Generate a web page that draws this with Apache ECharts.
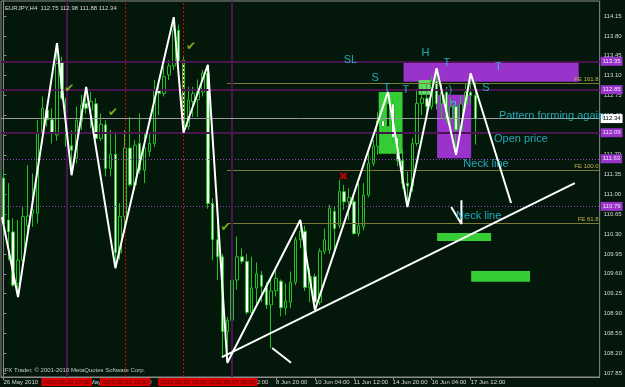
<!DOCTYPE html>
<html>
<head>
<meta charset="utf-8">
<script src="https://cdn.jsdelivr.net/npm/echarts@6/dist/echarts.min.js"></script>
<style>
  html, body { margin: 0; padding: 0; background: #03180b; }
  #main { width: 625px; height: 387px; }
</style>
</head>
<body>
<div id="main"></div>
<script>
(function () {
  // EURJPY H4, 26 May 2010 12:00 .. 17 Jun 2010 16:00 (98 bars), then empty shift area
  const slotCount = 123;

  const opens = [111.29, 110.55, 110.34, 109.43, 109.84, 110.45, 110.67, 110.67, 112.08, 112.49,
    112.32, 112.05, 113.34, 112.70, 111.86, 111.64, 112.29, 112.61, 112.49, 112.60,
    111.99, 112.23, 111.46, 111.71, 109.97, 110.61, 111.82, 111.17, 111.90, 111.43,
    111.76, 111.90, 112.84, 112.78, 113.11, 113.27, 113.90, 113.37, 112.20, 112.64,
    112.67, 112.81, 113.14, 110.84, 110.20, 109.90, 108.58, 108.78, 109.49, 109.90,
    109.82, 108.92, 109.35, 109.58, 109.38, 109.05, 109.30, 109.47, 109.00, 109.10,
    109.45, 110.20, 110.35, 109.36, 109.55, 109.10, 110.00, 110.02, 110.70, 110.45,
    111.05, 110.87, 110.87, 110.31, 110.43, 110.99, 111.55, 111.85, 112.30, 112.20,
    112.60, 112.00, 111.60, 111.20, 111.15, 111.90, 112.61, 112.70, 112.55, 113.00,
    112.60, 112.80, 112.35, 112.55, 112.14, 112.60, 112.80, 112.75];
  const closes = [110.49, 110.34, 109.40, 109.84, 110.61, 110.62, 110.73, 112.08, 112.52, 112.32,
    112.08, 113.31, 112.70, 111.85, 111.78, 112.31, 112.58, 112.52, 112.64, 111.99,
    112.24, 111.46, 111.71, 109.97, 110.61, 111.82, 111.17, 111.87, 111.43, 111.82,
    111.90, 112.84, 112.78, 113.08, 113.27, 113.90, 113.35, 112.20, 112.67, 112.78,
    112.81, 113.14, 110.84, 110.20, 109.90, 108.58, 108.78, 109.49, 109.90, 109.82,
    108.92, 109.35, 109.60, 109.38, 109.05, 109.30, 109.52, 109.00, 109.12, 109.45,
    110.20, 110.35, 109.36, 109.55, 109.10, 110.00, 110.20, 110.76, 110.40, 111.05,
    110.87, 110.95, 110.31, 110.45, 110.99, 111.55, 111.85, 112.30, 112.20, 112.60,
    112.00, 111.60, 111.20, 111.15, 111.90, 112.61, 112.70, 112.55, 113.00, 112.60,
    112.80, 112.35, 112.55, 112.14, 112.60, 112.80, 112.75, 112.34];
  const lows = [110.37, 109.84, 109.37, 109.19, 109.81, 110.37, 110.43, 110.49, 111.90, 112.20,
    111.90, 111.95, 112.67, 111.79, 111.34, 111.55, 112.14, 112.43, 112.17, 111.96,
    111.94, 111.32, 111.32, 109.70, 109.85, 110.37, 111.14, 111.08, 111.37, 111.20,
    111.67, 111.84, 112.40, 112.73, 113.02, 113.20, 113.30, 112.08, 112.14, 112.37,
    112.37, 112.73, 110.75, 109.84, 109.49, 108.14, 108.02, 108.25, 109.32, 109.78,
    108.88, 108.85, 109.05, 109.10, 108.98, 108.29, 109.20, 108.85, 108.87, 108.99,
    109.40, 110.05, 109.30, 109.10, 108.96, 109.05, 109.95, 109.95, 110.02, 110.40,
    110.73, 110.55, 110.29, 110.26, 110.37, 110.95, 111.50, 111.70, 112.00, 112.10,
    111.90, 111.50, 111.10, 110.78, 111.05, 111.85, 112.40, 112.35, 112.50, 112.50,
    112.35, 112.25, 112.10, 111.70, 112.05, 112.50, 112.60, 111.88];
  const highs = [111.43, 111.20, 110.58, 110.55, 110.79, 111.52, 111.37, 112.31, 112.73, 112.55,
    112.52, 113.67, 113.43, 112.76, 112.13, 112.55, 112.76, 112.90, 112.81, 112.70,
    112.43, 112.31, 112.14, 112.11, 110.85, 112.14, 112.37, 111.96, 112.43, 112.08,
    112.08, 113.02, 113.02, 113.26, 113.37, 114.13, 114.00, 113.45, 112.90, 112.90,
    113.03, 113.20, 113.29, 110.93, 110.67, 109.95, 108.84, 109.55, 110.26, 110.05,
    109.95, 109.90, 109.80, 109.65, 109.45, 109.55, 109.70, 109.50, 109.43, 109.64,
    110.25, 110.55, 110.45, 109.70, 109.60, 110.05, 110.40, 110.82, 110.79, 111.26,
    111.17, 111.11, 110.96, 111.20, 111.20, 111.73, 111.96, 112.45, 112.60, 112.81,
    112.70, 112.20, 111.80, 111.40, 112.00, 112.84, 112.90, 112.95, 113.10, 113.23,
    112.95, 112.90, 112.70, 112.65, 112.75, 112.95, 113.14, 112.98];

  // bottom time axis
  const xTickBars = [0, 8, 16, 24, 32, 40, 48, 56, 64, 72, 80, 88, 96];
  const xTickLabels = ['26 May 2010', '27 May 20:00', '31 May 04:00', '1 Jun 12:00', '2 Jun 20:00',
    '4 Jun 04:00', '7 Jun 12:00', '8 Jun 20:00', '10 Jun 04:00', '11 Jun 12:00',
    '14 Jun 20:00', '16 Jun 04:00', '17 Jun 12:00'];

  // right price scale
  const yMin = 107.779, yMax = 114.415;
  const yTicks = [107.85, 108.20, 108.55, 108.90, 109.25, 109.60, 109.95, 110.30, 110.65,
    111.00, 111.35, 111.70, 112.05, 112.40, 112.75, 113.10, 113.45, 113.80, 114.15];

  // zigzag drawn over the bars
  const zigBars = [-0.3, 3, 11, 14, 17, 23, 35, 37, 42, 46, 61, 64, 79, 83, 89, 93, 96, 104.3];
  const zigPrices = [110.60, 109.19, 113.67, 111.34, 112.90, 109.70, 114.13, 112.09, 113.29,
    108.03, 110.55, 108.96, 112.81, 110.78, 113.23, 111.70, 113.14, 110.85];

  // trend line and small hand-drawn strokes
  const trendBars = [44.9, 117.4];
  const trendPrices = [108.13, 111.20];
  const strokeBars = [[55.2, 59.1], [92.0, 94.1, 94.1]];
  const strokePrices = [[108.29, 108.03], [110.78, 110.48, 110.90]];

  // rectangles
  const rectBars = [[82.2, 118.2], [89.1, 96.1], [77.1, 82.0], [85.3, 88.1], [89.1, 100.2], [96.1, 108.2]];
  const rectPrices = [[113.34, 112.99], [112.76, 111.64], [112.81, 111.72], [113.02, 112.76],
    [110.32, 110.18], [109.65, 109.46]];
  const rectKinds = ['purple', 'purple', 'green', 'pale', 'green', 'green'];

  // horizontal levels
  const solidLevels = [113.35, 112.85, 112.09];
  const dottedLevels = [111.63, 110.79];
  const bidLevel = 112.34;
  const feLevels = [112.968, 111.433, 110.497];
  const feNames = ['FE 161.8', 'FE 100.0', 'FE 61.8'];
  const feStartBar = 45.96;

  // vertical lines
  const vBars = [13, 25, 37, 47];
  const vNames = ['2010.05.28 16:00', '2010.06.01 16:00', '2010.06.03 16:00', '2010.06.07 08:00'];
  const vKinds = ['solid', 'dotted', 'dotted', 'solid'];

  // text notes
  const noteText = ['SL', 'S', 'T', 'T', 'H', 'T', 'T', 'S', ':)', '?'];
  const noteBars = [69.9, 75.6, 78.1, 82.0, 85.9, 90.4, 101.0, 98.4, 90.8, 91.8];
  const notePrices = [113.374, 113.06, 112.88, 112.845, 113.497, 113.321, 113.25, 112.88, 112.845, 112.56];
  const commentText = ['Pattern forming again', 'Open price', 'Neck line', 'Neck line'];
  const commentBars = [101.8, 100.8, 94.5, 93.0];
  const commentPrices = [112.385, 111.98, 111.54, 110.62];
  const checkBars = [12.5, 21.5, 37.5, 44.6];
  const checkPrices = [112.862, 112.44, 113.60, 110.41];
  const crossBars = [68.9];
  const crossPrices = [111.31];

  const bg = '#03180b';
  const gray = '#8c8c8c';
  const cyan = '#2ccbe4';
  const purple = '#9933cc';
  const darkPurple = '#4a1450';
  const small = 'Liberation Sans, Arial, sans-serif';

  const myChart = echarts.init(document.getElementById('main'));

  const candleData = opens.map((o, i) => [o, closes[i], lows[i], highs[i]]);
  const xCats = Array.from({ length: slotCount }, (_, i) => String(i));
  const tickAt = new Map(xTickBars.map((b, i) => [b, xTickLabels[i]]));
  const showTick = (i) => tickAt.has(i);

  const rectColor = { purple: purple, green: '#36cc36', pale: '#66d866' };
  const areaData = rectBars.map((b, i) => [
    { coord: [b[0], rectPrices[i][0]], itemStyle: { color: rectColor[rectKinds[i]] } },
    { coord: [b[1], rectPrices[i][1]] }
  ]);

  const boxLabel = (text, fill, ink) => ({
    show: true, position: 'end', formatter: text, backgroundColor: fill, color: ink,
    fontSize: 6, fontFamily: small, padding: [2, 2, 1, 2], distance: 1
  });

  const levelLines = [];
  solidLevels.forEach((p) => levelLines.push({
    yAxis: p, lineStyle: { color: darkPurple, width: 2, type: 'solid' },
    label: boxLabel(p.toFixed(2), purple, '#f2e4f6')
  }));
  dottedLevels.forEach((p) => levelLines.push({
    yAxis: p, lineStyle: { color: '#a040c8', width: 1, type: [1, 2] },
    label: boxLabel(p.toFixed(2), purple, '#f2e4f6')
  }));
  feLevels.forEach((p, i) => levelLines.push([
    { coord: [feStartBar, p], lineStyle: { color: '#7d7a35', width: 1, type: 'solid' },
      label: { show: true, position: 'insideEndTop', formatter: feNames[i], color: '#c8b44c',
        fontSize: 6, fontFamily: small, distance: 1 } },
    { coord: [slotCount - 0.5, p] }
  ]));
  vBars.forEach((b, i) => levelLines.push({
    xAxis: b,
    lineStyle: vKinds[i] === 'solid'
      ? { color: darkPurple, width: 2, type: 'solid' }
      : { color: '#e00000', width: 1, type: [2, 2] },
    label: { show: true, position: 'start', formatter: vNames[i], backgroundColor: '#d80000',
      color: '#5a0000', fontSize: 6, fontFamily: small, padding: [1, 2, 1, 2], distance: 1 }
  }));

  const pts = (bars, prices, names) => bars.map((b, i) => ({ value: [b, prices[i]], name: names ? names[i] : '' }));

  const textSeries = (data, size, color, family, z, weight) => ({
    type: 'scatter', xAxisIndex: 1, data: data, symbolSize: 0, z: z, silent: true,
    label: { show: true, position: 'right', distance: 0, formatter: '{b}', color: color,
      fontSize: size, fontFamily: family, fontWeight: weight || 'normal' }
  });

  const option = {
    backgroundColor: bg,
    animation: false,
    title: [
      { text: 'EURJPY,H4  112.75 112.98 111.88 112.34', left: 5, top: 5, padding: 0,
        textStyle: { color: '#d8d8d8', fontSize: 6, fontWeight: 'normal', fontFamily: small } },
      { text: 'IFX Trader, \u00a9 2001-2010 MetaQuotes Software Corp.', left: 3, top: 367, padding: 0,
        textStyle: { color: '#c8c8c8', fontSize: 6, fontWeight: 'normal', fontFamily: small } }
    ],
    grid: { left: 1, top: 1, width: 601, height: 376, show: true, borderColor: gray, borderWidth: 1 },
    xAxis: [
      { type: 'category', data: xCats, boundaryGap: true,
        axisLine: { show: true, lineStyle: { color: gray } },
        axisTick: { show: true, interval: showTick, alignWithLabel: true, length: 3, lineStyle: { color: gray } },
        axisLabel: { interval: showTick, formatter: (v, i) => tickAt.get(i) || '', align: 'left',
          color: '#d8d8d8', fontSize: 6, fontFamily: small, margin: 2 },
        splitLine: { show: false } },
      { type: 'value', min: -0.5, max: slotCount - 0.5, show: false }
    ],
    yAxis: {
      type: 'value', position: 'right', min: yMin, max: yMax, scale: true,
      splitLine: { show: false },
      axisLine: { show: true, lineStyle: { color: gray } },
      axisTick: { show: true, customValues: yTicks, length: 3, lineStyle: { color: gray } },
      axisLabel: { customValues: yTicks, formatter: (v) => v.toFixed(2), color: '#d8d8d8',
        fontSize: 6, fontFamily: small, margin: 4 }
    },
    series: [
      { type: 'scatter', xAxisIndex: 1, data: [], z: 1, silent: true,
        markArea: { silent: true, data: areaData } },
      { type: 'line', xAxisIndex: 1, data: [], z: 2, silent: true,
        markLine: { silent: true, symbol: ['none', 'none'], data: levelLines } },
      { type: 'candlestick', xAxisIndex: 0, data: candleData, z: 3, barWidth: 3,
        itemStyle: { color: bg, color0: '#ffffff', borderColor: '#22c022', borderColor0: '#22c022', borderWidth: 1 } },
      { type: 'line', xAxisIndex: 1, data: zigBars.map((b, i) => [b, zigPrices[i]]), z: 5,
        symbol: 'none', lineStyle: { color: '#ffffff', width: 2 } },
      { type: 'line', xAxisIndex: 1, data: trendBars.map((b, i) => [b, trendPrices[i]]), z: 5,
        symbol: 'none', lineStyle: { color: '#ffffff', width: 2 } },
      ...strokeBars.map((bars, k) => ({
        type: 'line', xAxisIndex: 1, data: bars.map((b, i) => [b, strokePrices[k][i]]), z: 5,
        symbol: 'none', lineStyle: { color: '#ffffff', width: 2 }
      })),
      textSeries(pts(noteBars, notePrices, noteText), 11, cyan, small, 6),
      textSeries(pts(commentBars, commentPrices, commentText), 11, cyan, small, 6),
      textSeries(pts(checkBars, checkPrices, checkBars.map(() => '\u2714')), 12, '#9ccf1c', 'DejaVu Sans', 6),
      textSeries(pts(crossBars, crossPrices, ['\u2716']), 11, '#e00000', 'DejaVu Sans', 6),
      { type: 'line', xAxisIndex: 1, data: [], z: 10, silent: true,
        markLine: { silent: true, symbol: ['none', 'none'], data: [{
          yAxis: bidLevel, lineStyle: { color: '#9a9a9a', width: 1, type: 'solid' },
          label: boxLabel(bidLevel.toFixed(2), '#ffffff', '#000000')
        }] } }
    ]
  };

  myChart.setOption(option);
})();
</script>
</body>
</html>
